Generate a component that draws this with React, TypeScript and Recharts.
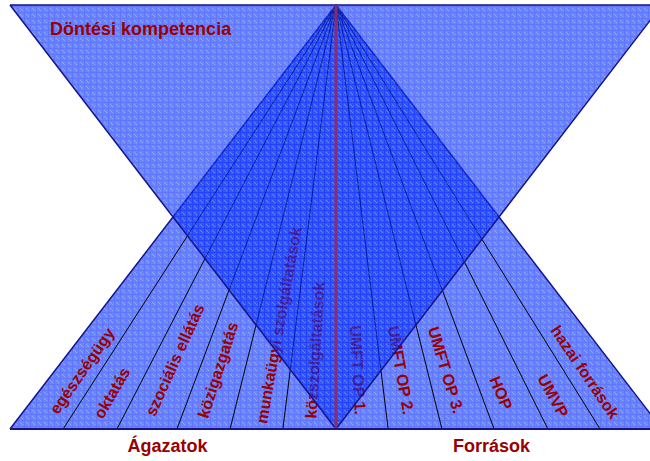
import {
  ComposedChart,
  Area,
  XAxis,
  YAxis,
  ReferenceLine,
  ReferenceDot,
} from 'recharts'

// Two crossing triangles: the lower one is split into sectors (Ágazatok /
// Források), the upper one is "Döntési kompetencia". x runs -1..1 across the
// base, y runs 0 (base) .. 1 (top edge).
const X_POINTS = [-1, 0, 1]
const SECTOR_TRIANGLE = [0, 1, 0]
const COMPETENCE_LOW = [1, 0, 1]
const COMPETENCE_HIGH = [1, 1, 1]

// where each fan line meets the base (all meet at the apex x=0, y=1)
const FAN_BASES = [-0.837, -0.672, -0.488, -0.325, -0.163, 0.16, 0.325, 0.485, 0.65, 0.81]

const SECTOR_LABELS = [
  'egészségügy',
  'oktatás',
  'szociális ellátás',
  'közigazgatás',
  'munkaügyi szolgáltatások',
  'közszolgáltatások',
  'UMFT OP 1.',
  'UMFT OP 2.',
  'UMFT OP 3.',
  'HOP',
  'UMVP',
  'hazai források',
]
const LABEL_X = [-0.779, -0.687, -0.494, -0.362, -0.175, -0.064, 0.067, 0.199, 0.337, 0.506, 0.666, 0.764]
const LABEL_Y = [0.137, 0.085, 0.163, 0.139, 0.245, 0.186, 0.139, 0.139, 0.139, 0.085, 0.078, 0.134]

const AXIS_NAMES = ['Ágazatok', 'Források']
const AXIS_TICKS = [-0.517, 0.477]

const TITLE = 'Döntési kompetencia'
const TITLE_POS = { x: -0.877, y: 0.929 }

const W = 650
const H = 461
const MARGIN = { top: 5, right: -12, bottom: 0, left: 10 }
const X_AXIS_H = 32
const PLOT_W = W - MARGIN.left - MARGIN.right
const APEX = { x: MARGIN.left + PLOT_W / 2, y: MARGIN.top }

const FONT = '"Liberation Sans", Arial, sans-serif'
const RED = '#990000'
const EDGE = '#14148a'
const FILL_OPACITY = 0.62

const rows = X_POINTS.map((x, i) => ({
  x,
  sector: SECTOR_TRIANGLE[i],
  competence: [COMPETENCE_LOW[i], COMPETENCE_HIGH[i]],
}))

// label along the ray that runs through it to the apex
function sectorLabel(text: string) {
  return (props: any) => {
    const { cx, cy } = props
    const left = cx < APEX.x
    const a = left
      ? (Math.atan2(APEX.y - cy, APEX.x - cx) * 180) / Math.PI
      : (Math.atan2(cy - APEX.y, cx - APEX.x) * 180) / Math.PI
    return (
      <text
        x={cx}
        y={cy}
        transform={`rotate(${a} ${cx} ${cy})`}
        textAnchor="middle"
        dominantBaseline="central"
        fontFamily={FONT}
        fontWeight="bold"
        fontSize={16}
        fill={RED}
      >
        {text}
      </text>
    )
  }
}

function titleShape(props: any) {
  return (
    <text
      x={props.cx}
      y={props.cy}
      fontFamily={FONT}
      fontWeight="bold"
      fontSize={18}
      fill={RED}
    >
      {TITLE}
    </text>
  )
}

export default function App() {
  return (
    <div style={{ position: 'absolute', left: 0, top: 0 }}>
      <ComposedChart width={W} height={H} data={rows} margin={MARGIN}>
        <defs>
          <pattern id="grid" width={6} height={6} patternUnits="userSpaceOnUse">
            <rect width={6} height={6} fill="#0f41f2" />
            <rect x={2} y={2} width={1} height={1} fill="#3f6ff6" />
            <rect x={4} y={4} width={1} height={1} fill="#3f6ff6" />
            <rect x={3} y={3} width={1} height={1} fill="#3f6ff6" />
            <rect x={2} y={4} width={1} height={1} fill="#002ee8" />
            <rect x={4} y={2} width={1} height={1} fill="#002ee8" />
            <path d="M0 0.5H6M0.5 0V6" stroke="#0020ff" strokeWidth={1} />
          </pattern>
        </defs>
        <XAxis
          type="number"
          dataKey="x"
          domain={[-1, 1]}
          ticks={AXIS_TICKS}
          tickFormatter={(v) => AXIS_NAMES[AXIS_TICKS.indexOf(v)] ?? ''}
          tickLine={false}
          tickMargin={4}
          height={X_AXIS_H}
          axisLine={{ stroke: EDGE, strokeWidth: 2 }}
          tick={{ fill: RED, fontSize: 18, fontWeight: 'bold', fontFamily: FONT }}
          interval={0}
        />
        <YAxis type="number" domain={[0, 1]} hide />

        <Area
          type="linear"
          dataKey="sector"
          fill="url(#grid)"
          fillOpacity={FILL_OPACITY}
          stroke={EDGE}
          strokeWidth={1.5}
          isAnimationActive={false}
          zIndex={100}
        />

        {FAN_BASES.map((b) => (
          <ReferenceLine
            key={b}
            segment={[
              { x: b, y: 0 },
              { x: 0, y: 1 },
            ]}
            stroke="#000"
            strokeWidth={1}
            zIndex={150}
          />
        ))}

        {SECTOR_LABELS.map((t, i) => (
          <ReferenceDot
            key={t}
            x={LABEL_X[i]}
            y={LABEL_Y[i]}
            r={1}
            shape={sectorLabel(t)}
            zIndex={160}
          />
        ))}

        <Area
          type="linear"
          dataKey="competence"
          fill="url(#grid)"
          fillOpacity={FILL_OPACITY}
          stroke={EDGE}
          strokeWidth={1.5}
          isAnimationActive={false}
          zIndex={200}
        />

        <ReferenceLine x={0} stroke="#8a2a72" strokeWidth={3} zIndex={300} />

        <ReferenceDot x={TITLE_POS.x} y={TITLE_POS.y} r={1} shape={titleShape} zIndex={400} />
      </ComposedChart>
    </div>
  )
}
